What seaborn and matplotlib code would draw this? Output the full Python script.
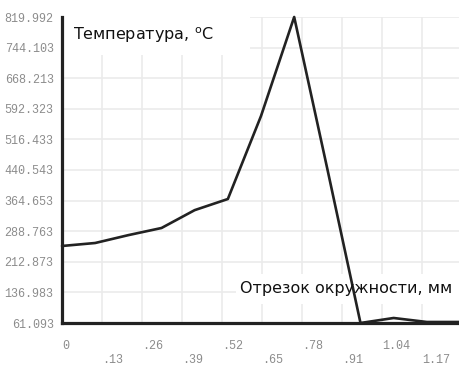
import numpy as np
import pandas as pd
import matplotlib
matplotlib.use("Agg")
import matplotlib.pyplot as plt
import seaborn as sns
from matplotlib.patches import Rectangle

# ---- data ----
x_len = [0.0, 0.1078, 0.2156, 0.3234, 0.4312, 0.5390, 0.6468, 0.7546,
         0.8624, 0.9701, 1.0779, 1.1857, 1.2935]
temperature = [252.1, 259.5, 279.0, 296.7, 341.0, 368.6, 574.5, 819.992,
               443.0, 61.093, 73.5, 63.6, 63.6]
y_ticks = [61.093, 136.983, 212.873, 288.763, 364.653, 440.543, 516.433,
           592.323, 668.213, 744.103, 819.992]
y_tick_labels = ["61.093", "136.983", "212.873", "288.763", "364.653", "440.543",
                 "516.433", "592.323", "668.213", "744.103", "819.992"]
x_major = [0.0, 0.26, 0.52, 0.78, 1.04]
x_major_labels = ["0", ".26", ".52", ".78", "1.04"]
x_minor = [0.13, 0.39, 0.65, 0.91, 1.17]
x_minor_labels = [".13", ".39", ".65", ".91", "1.17"]
y_title = "Температура, $^{\\mathrm{o}}$C"
x_title = "Отрезок окружности, мм"

df = pd.DataFrame({"x": x_len, "t": temperature})

sns.set_style("white")
plt.rcParams["font.family"] = ["DejaVu Sans"]

fig = plt.figure(figsize=(4.6, 3.69), dpi=100)
ax = fig.add_axes([62/460, 46/369, 398/460, 306/369])

sns.lineplot(data=df, x="x", y="t", ax=ax, color="#222222", linewidth=1.9,
             clip_on=False, zorder=3)

ax.set_xlim(0, 1.2935)
ax.set_ylim(61.093, 819.992)

ax.set_yticks(y_ticks)
ax.set_yticklabels(y_tick_labels)
ax.set_xticks(x_major)
ax.set_xticklabels(x_major_labels)
ax.set_xticks(x_minor, minor=True)
ax.set_xticklabels(x_minor_labels, minor=True)

mono = "Liberation Mono"
for lbl in ax.get_yticklabels():
    lbl.set_fontfamily(mono)
for lbl in ax.get_xticklabels() + ax.get_xticklabels(minor=True):
    lbl.set_fontfamily(mono)
    lbl.set_ha("left")

ax.tick_params(axis="y", which="major", length=3, width=1, color="#cccccc",
               labelsize=8.5, labelcolor="#8c8c8c", pad=3)
ax.tick_params(axis="x", which="major", length=3, width=1, color="#eeeeee",
               labelsize=8.5, labelcolor="#8c8c8c", pad=9)
ax.tick_params(axis="x", which="minor", length=3, width=1, color="#eeeeee",
               labelsize=8.5, labelcolor="#8c8c8c", pad=19)

ax.grid(True, which="major", axis="y", color="#ebebeb", linewidth=1.2)
ax.grid(True, which="both", axis="x", color="#ebebeb", linewidth=1.2)
ax.set_axisbelow(True)

for side in ["top", "right"]:
    ax.spines[side].set_visible(False)
for side in ["left", "bottom"]:
    ax.spines[side].set_color("#222222")
    ax.spines[side].set_linewidth(2.3)
    ax.spines[side].set_zorder(4)

ax.set_xlabel("")
ax.set_ylabel("")

# white boxes behind the in-plot labels
ax.add_patch(Rectangle((0, (323-55)/306), (250-62)/398, 55/306 - 17/306 + 0.01,
                       transform=ax.transAxes, facecolor="white",
                       edgecolor="none", zorder=1.5))
ax.add_patch(Rectangle(((236-62)/398, (323-304)/306), 1 - (236-62)/398, 30/306,
                       transform=ax.transAxes, facecolor="white",
                       edgecolor="none", zorder=1.5))

ax.text((73-62)/398, (323-35)/306, y_title, transform=ax.transAxes,
        fontsize=11.5, color="#111111", ha="left", va="center", zorder=5)
ax.text((240-62)/398, (323-288)/306, x_title, transform=ax.transAxes,
        fontsize=11.5, color="#111111", ha="left", va="center", zorder=5)

fig.savefig("out.png", dpi=100)
